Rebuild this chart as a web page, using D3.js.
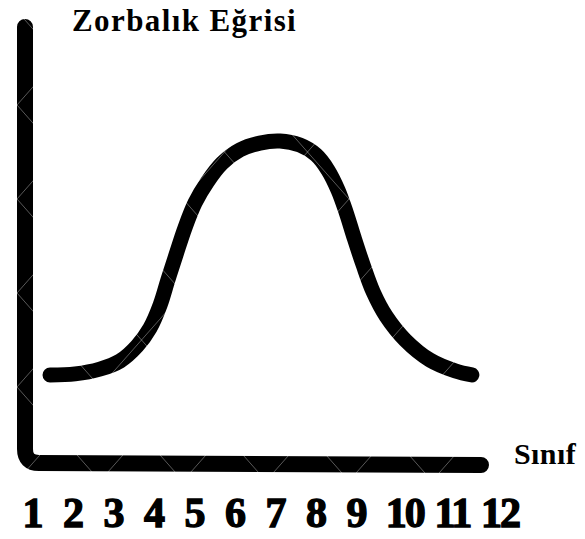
<html>
<head>
	<meta charset="utf-8">
	<script src="https://d3js.org/d3.v7.min.js"></script>
	<style type="text/css">
	body { margin: 0; background: #fff; }
	svg { display: block; }
	</style>
</head>
<body>
<script type="text/javascript">
	//Width and height
	var w = 585;
	var h = 539;

	// grades on the x axis
	var gradeLabels = ["1","2","3","4","5","6","7","8","9","10","11","12"];
	var gradeValues = [1,2,3,4,5,6,7,8,9,10,11,12];
	// bell curve (grade, bullying level 0-100)
	var curveGrade = [1.42, 2.04, 2.65, 3.15, 3.57, 3.89, 4.14, 4.33, 4.53, 4.75, 5.00, 5.30, 5.67, 6.11, 6.60, 7.10,
		7.59, 7.99, 8.28, 8.53, 8.73, 8.93, 9.13, 9.34, 9.61, 10.01, 10.53, 11.06, 11.41];
	var curveLevel = [25.9, 26.2, 27.6, 30.0, 34.4, 39.7, 46.5, 53.8, 61.2, 69.1, 76.5, 82.6, 88.2, 92.1, 94.1, 94.7,
		93.5, 90.6, 86.2, 80.3, 73.8, 66.2, 58.2, 50.3, 43.2, 36.2, 30.3, 27.1, 25.9];
	var title = "Zorbalık Eğrisi";
	var xTitle = "Sınıf";

	// labels 10-12 sit a bit wider apart in the picture
	var x = d3.scaleLinear().domain([1, 9, 12]).range([33, 357, 500]);
	var y = d3.scaleLinear().domain([0, 100]).range([463, 123]);

	var svg = d3.select("body")
		.append("svg")
		.attr("width", w)
		.attr("height", h);

	svg.append("rect")
		.attr("width", w)
		.attr("height", h)
		.attr("fill", "#fff");

	// axes drawn as thick marker strokes
	var x0 = 25, yTop = 27, yBase = y(0), xEnd = 481, r = 14;
	svg.append("path")
		.attr("d", "M" + x0 + "," + yTop + " L" + x0 + "," + (yBase - r) +
			" Q" + x0 + "," + yBase + " " + (x0 + r) + "," + yBase +
			" L" + xEnd + "," + (yBase + 2))
		.attr("fill", "none")
		.attr("stroke", "#000")
		.attr("stroke-width", 16)
		.attr("stroke-linecap", "round")
		.attr("stroke-linejoin", "round");

	// the curve
	var pts = curveGrade.map(function(g, i) { return [g, curveLevel[i]]; });
	var line = d3.line()
		.x(function(d) { return x(d[0]); })
		.y(function(d) { return y(d[1]); })
		.curve(d3.curveCatmullRom.alpha(0.5));

	svg.append("path")
		.datum(pts)
		.attr("d", line)
		.attr("fill", "none")
		.attr("stroke", "#000")
		.attr("stroke-width", 15)
		.attr("stroke-linecap", "round");

	// faint diamond watermark, only shows on the black strokes
	var wm = svg.append("g")
		.attr("stroke", "#fff")
		.attr("stroke-opacity", 0.35)
		.attr("stroke-width", 1);
	var pw = 83, ph = 94, ox = 17, oy = 11;
	for (var k = -12; k < 14; k++) {
		var cx = ox + k * pw;
		wm.append("line")
			.attr("x1", cx).attr("y1", oy)
			.attr("x2", cx + pw * 6).attr("y2", oy + ph * 6);
		wm.append("line")
			.attr("x1", cx).attr("y1", oy + ph * 6)
			.attr("x2", cx + pw * 6).attr("y2", oy);
	}

	// title
	svg.append("text")
		.text(title)
		.attr("x", 72)
		.attr("y", 31)
		.attr("font-family", "Liberation Serif")
		.attr("font-weight", "bold")
		.attr("font-size", 31)
		.attr("letter-spacing", 1.4);

	// x axis title
	svg.append("text")
		.text(xTitle)
		.attr("x", 514)
		.attr("y", 464)
		.attr("font-family", "Liberation Serif")
		.attr("font-weight", "bold")
		.attr("font-size", 30)
		.attr("letter-spacing", 0.4);

	// grade labels
	svg.append("g")
		.selectAll("text")
		.data(gradeValues)
		.join("text")
		.text(function(d, i) { return gradeLabels[i]; })
		.attr("x", function(d) { return x(d); })
		.attr("y", 527)
		.attr("text-anchor", "middle")
		.attr("font-family", "Liberation Serif")
		.attr("font-weight", "bold")
		.attr("font-size", 42)
		.attr("letter-spacing", function(d) { return d > 9 ? -2 : 0; })
		.attr("stroke", "#000")
		.attr("stroke-width", 1.4);
</script>
</body>
</html>
